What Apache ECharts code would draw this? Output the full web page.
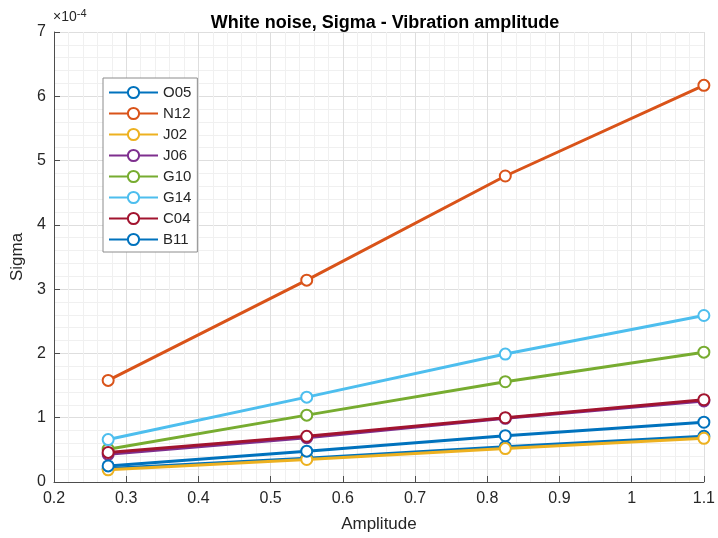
<!DOCTYPE html>
<html>
<head>
<meta charset="utf-8">
<script src="https://cdn.jsdelivr.net/npm/echarts@6/dist/echarts.min.js"></script>
<style>
  html, body { margin: 0; padding: 0; background: #fff; }
  #chart { width: 718px; height: 538px; }
</style>
</head>
<body>
<div id="chart"></div>
<script>
// 振幅
var amplitude = [0.275, 0.55, 0.825, 1.1]
// Sigma 值 (单位 1e-4)
var seriesNames = ['O05', 'N12', 'J02', 'J06', 'G10', 'G14', 'C04', 'B11']
var O05 = [0.21, 0.37, 0.55, 0.71]
var N12 = [1.58, 3.14, 4.76, 6.17]
var J02 = [0.19, 0.35, 0.52, 0.68]
var J06 = [0.43, 0.69, 0.99, 1.26]
var G10 = [0.51, 1.04, 1.56, 2.02]
var G14 = [0.66, 1.32, 1.99, 2.59]
var C04 = [0.46, 0.71, 1.00, 1.28]
var B11 = [0.25, 0.48, 0.72, 0.93]
var seriesData = [O05, N12, J02, J06, G10, G14, C04, B11]
var colors = ['#0072BD', '#D95319', '#EDB120', '#7E2F8E', '#77AC30', '#4DBEEE', '#A2142F', '#0072BD']

var myChart = echarts.init(document.getElementById('chart'))

var series = seriesNames.map(function (name, i) {
  return {
    name: name,
    type: 'line',
    data: amplitude.map(function (x, j) { return [x, seriesData[i][j]] }),
    symbol: 'emptyCircle',
    symbolSize: 11,
    lineStyle: { width: 3, color: colors[i] },
    itemStyle: { color: colors[i], borderWidth: 3, borderColor: colors[i] },
    emphasis: { disabled: true },
    z: 2 + i
  }
})

var axisColor = '#4d4d4d'
var textColor = '#262626'
var font = 'Liberation Sans, Arial, sans-serif'

var options = {
  animation: false,
  textStyle: { fontFamily: font },
  title: {
    text: 'White noise, Sigma - Vibration amplitude',
    left: 380,
    top: 9,
    textAlign: 'center',
    textStyle: { fontSize: 18, fontWeight: 'bold', color: '#000' }
  },
  legend: {
    orient: 'vertical',
    left: 103,
    top: 78,
    itemWidth: 49,
    itemHeight: 14,
    itemGap: 6,
    padding: [7, 6, 5, 5],
    borderColor: '#8c8c8c',
    borderWidth: 1,
    backgroundColor: '#fff',
    textStyle: { fontSize: 15, lineHeight: 14, color: textColor },
    data: seriesNames
  },
  grid: {
    left: 54,
    right: 11,
    top: 32,
    bottom: 52
  },
  xAxis: {
    type: 'value',
    min: 0.2,
    max: 1.1,
    interval: 0.1,
    name: 'Amplitude',
    nameLocation: 'middle',
    nameGap: 34,
    nameTextStyle: { fontSize: 17, color: textColor },
    axisLine: { onZero: false, lineStyle: { color: axisColor, width: 1 } },
    axisTick: { inside: true, length: 6, lineStyle: { color: axisColor } },
    axisLabel: {
      fontSize: 16,
      color: textColor,
      margin: 9,
      formatter: function (v) { return String(+v.toFixed(1)) }
    },
    splitLine: { show: true, lineStyle: { color: '#dedede', width: 1 } },
    minorTick: { show: false, splitNumber: 5 },
    minorSplitLine: { show: true, lineStyle: { color: '#f0f0f0', width: 1 } }
  },
  yAxis: {
    type: 'value',
    min: 0,
    max: 7,
    interval: 1,
    name: 'Sigma',
    nameLocation: 'middle',
    nameGap: 25,
    nameTextStyle: { fontSize: 17, color: textColor },
    axisLine: { show: true, lineStyle: { color: axisColor, width: 1 } },
    axisTick: { show: true, inside: true, length: 6, lineStyle: { color: axisColor } },
    axisLabel: { fontSize: 16, color: textColor, margin: 8 },
    splitLine: { show: true, lineStyle: { color: '#dedede', width: 1 } },
    minorTick: { show: false, splitNumber: 5 },
    minorSplitLine: { show: true, lineStyle: { color: '#f0f0f0', width: 1 } }
  },
  graphic: [
    {
      type: 'text',
      left: 53,
      top: 8,
      style: {
        text: '{a|×10}{b|-4}',
        rich: {
          a: { fontSize: 14, fill: textColor, fontFamily: font },
          b: { fontSize: 11, fill: textColor, verticalAlign: 'top', padding: [0, 0, 8, 0], fontFamily: font }
        }
      }
    }
  ],
  series: series
}

myChart.setOption(options)
</script>
</body>
</html>
